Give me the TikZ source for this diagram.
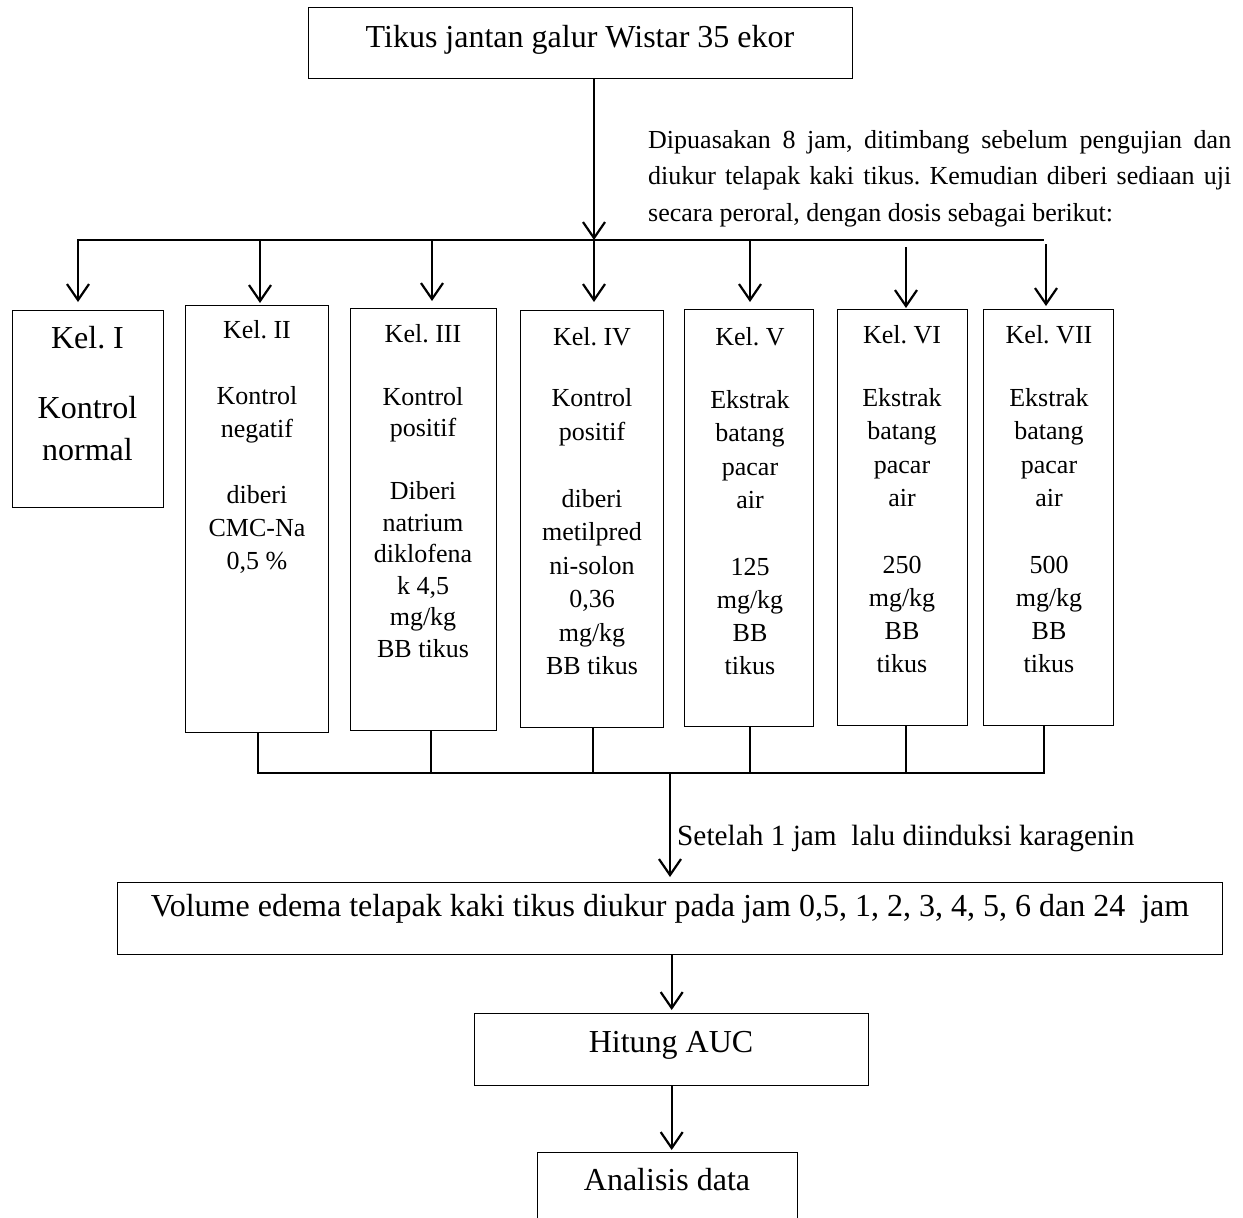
\documentclass[tikz,border=0pt]{standalone}
\usepackage{fontspec}
\setmainfont{Liberation Serif}
\usetikzlibrary{arrows.meta}
\frenchspacing
\begin{document}
\begin{tikzpicture}[x=1pt,y=-1pt,
  box/.style={draw, line width=1.4pt, inner sep=0pt, anchor=north west},
  bigtxt/.style={font=\fontsize{32}{42}\selectfont, inner sep=0pt, align=center},
  smalltxt/.style={font=\fontsize{26}{#1}\selectfont, inner sep=0pt, align=center, anchor=north},
  conn/.style={line width=2.2pt},
  arr/.style={line width=2.2pt, -{Straight Barb[length=16pt,width=22pt]}},
]
\useasboundingbox[fill=white] (0,0) rectangle (1243,1218);

% boxes
\node[box, minimum width=544pt, minimum height=71pt] (top) at (308,7) {};
\node[box, minimum width=151pt, minimum height=197pt] (box1) at (12,310) {};
\node[box, minimum width=143.5pt, minimum height=427pt] (box2) at (184.5,305) {};
\node[box, minimum width=146.5pt, minimum height=422pt] (box3) at (349.5,308) {};
\node[box, minimum width=143pt, minimum height=417pt] (box4) at (520,310) {};
\node[box, minimum width=129pt, minimum height=417pt] (box5) at (684,309) {};
\node[box, minimum width=129.5pt, minimum height=416pt] (box6) at (837,309) {};
\node[box, minimum width=130pt, minimum height=416pt] (box7) at (982.5,309) {};
\node[box, minimum width=1105pt, minimum height=72pt] (vol) at (117,882) {};
\node[box, minimum width=394pt, minimum height=72pt] (auc) at (474,1013) {};
\node[box, minimum width=260pt, minimum height=90pt] (ana) at (537,1152) {};

% texts
\node[bigtxt, anchor=base] (toptxt) at (580,47) {Tikus jantan galur Wistar 35 ekor};
\node[anchor=north west, text width=583pt, align=justify, inner sep=0pt,
      font=\fontsize{26}{36.5}\selectfont] (para) at (648,130)
  {\hyphenpenalty=10000 \tolerance=10000
   Dipuasakan 8 jam, ditimbang sebelum pengujian dan\linebreak
   diukur telapak kaki tikus. Kemudian diberi sediaan uji\linebreak
   secara peroral, dengan dosis sebagai berikut:};
\node[bigtxt, anchor=north] (t1) at (87.5,326) {Kel. I\\[28pt]Kontrol\\normal};
\node[smalltxt=33] (t2) at (257,320) {Kel. II\\[33pt]Kontrol\\negatif\\[33pt]diberi\\CMC-Na\\0,5 \%};
\node[smalltxt=31.5] (t3) at (423,324) {Kel. III\\[31.5pt]Kontrol\\positif\\[31.5pt]Diberi\\natrium\\diklofena\\k 4,5\\mg/kg\\BB tikus};
\node[smalltxt=33.5] (t4) at (592,327) {Kel. IV\\[28pt]Kontrol\\positif\\[33.5pt]diberi\\metilpred\\ni-solon\\0,36\\mg/kg\\BB tikus};
\node[smalltxt=33.3] (t5) at (750,327) {Kel. V\\[30pt]Ekstrak\\batang\\pacar\\air\\[33.3pt]125\\mg/kg\\BB\\tikus};
\node[smalltxt=33.3] (t6) at (902,325) {Kel. VI\\[30pt]Ekstrak\\batang\\pacar\\air\\[33.3pt]250\\mg/kg\\BB\\tikus};
\node[smalltxt=33.3] (t7) at (1049,325) {Kel. VII\\[30pt]Ekstrak\\batang\\pacar\\air\\[33.3pt]500\\mg/kg\\BB\\tikus};
\node[anchor=base west, inner sep=0pt, font=\fontsize{29.3}{34}\selectfont] (lbl) at (677,845)
  {Setelah 1 jam\ \ lalu diinduksi karagenin};
\node[bigtxt, anchor=base] (voltxt) at (670,916) {Volume edema telapak kaki tikus diukur pada jam 0,5, 1, 2, 3, 4, 5, 6 dan 24\ \ jam};
\node[bigtxt, anchor=base] (auctxt) at (671,1052) {Hitung AUC};
\node[bigtxt, anchor=base] (anatxt) at (667,1190) {Analisis data};

% top connectors
\coordinate (bl) at (77,240);
\coordinate (br) at (1044,240);
\coordinate (a1) at (78,240);
\coordinate (a2) at (260,240);
\coordinate (a3) at (432,240);
\coordinate (a4) at (594,240);
\coordinate (a5) at (750,240);
\coordinate (a6) at (906,247);
\coordinate (a7) at (1046,244);
\draw[arr] (top.south -| a4) -- (a4);
\draw[conn] (bl) -- (br);
\draw[arr, shorten >=8pt] (a1) -- (a1 |- box1.north);
\draw[arr, shorten >=2pt] (a2) -- (a2 |- box2.north);
\draw[arr, shorten >=7pt] (a3) -- (a3 |- box3.north);
\draw[arr, shorten >=8pt] (a4) -- (a4 |- box4.north);
\draw[arr, shorten >=7pt] (a5) -- (a5 |- box5.north);
\draw[arr, shorten >=1pt] (a6) -- (a6 |- box6.north);
\draw[arr, shorten >=3pt] (a7) -- (a7 |- box7.north);

% bottom connectors
\coordinate (c2) at (258,773);
\coordinate (c3) at (431,773);
\coordinate (c4) at (593,773);
\coordinate (c5) at (750,773);
\coordinate (c6) at (906,773);
\coordinate (c7) at (1044,773);
\coordinate (d) at (670,773);
\draw[conn] (box2.south -| c2) -- (c2) -- (c7) -- (box7.south -| c7);
\draw[conn] (box3.south -| c3) -- (c3);
\draw[conn] (box4.south -| c4) -- (c4);
\draw[conn] (box5.south -| c5) -- (c5);
\draw[conn] (box6.south -| c6) -- (c6);
\draw[arr, shorten >=5pt] (d) -- (d |- vol.north);
\draw[arr, shorten >=3pt] (auc.north |- vol.south) -- (auc.north);
\draw[arr, shorten >=2pt] (auc.south) -- (auc.south |- ana.north);
\end{tikzpicture}
\end{document}
